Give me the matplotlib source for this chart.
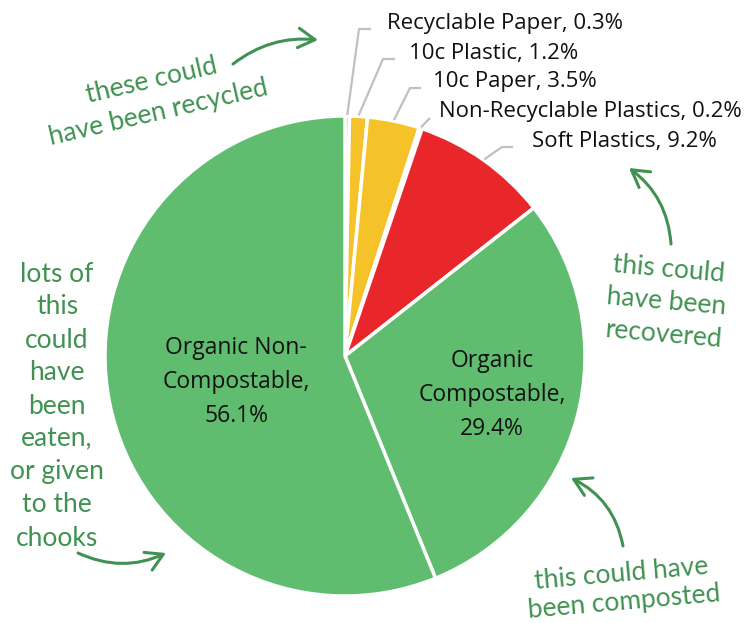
import numpy as np
import matplotlib
matplotlib.use("Agg")
import matplotlib.pyplot as plt

W, H = 752, 623

categories = ['Recyclable Paper', '10c Plastic', '10c Paper', 'Non-Recyclable Plastics',
              'Soft Plastics', 'Organic Compostable', 'Organic Non-Compostable']
shares = [0.3, 1.2, 3.5, 0.2, 9.2, 29.4, 56.1]
slice_colors = ['#F6C22A', '#F6C22A', '#F6C22A', '#E9272B', '#E9272B', '#60BD70', '#60BD70']

inner_labels = ['Organic\nCompostable,\n29.4%', 'Organic Non-\nCompostable,\n56.1%']

notes = ['these could\nhave been recycled',
         'lots of\nthis\ncould\nhave\nbeen\neaten,\nor given\nto the\nchooks',
         'this could\nhave been\nrecovered',
         'this could have\nbeen composted']

black_font = 'Open Sans'
note_font = 'Lato'
note_color = '#409252'
leader_color = '#C0C0C0'


def P(x, y):
    # pixel coords from the top-left corner -> data coords
    return (x, H - y)


fig = plt.figure(figsize=(W / 100, H / 100), dpi=100)
ax = fig.add_axes([0, 0, 1, 1])

cx, cy, R = 345, 356, 240
wedges, _ = ax.pie(shares, colors=slice_colors, startangle=90, counterclock=False,
                   center=P(cx, cy), radius=R,
                   wedgeprops=dict(edgecolor='white', linewidth=2.5))
ax.set_xlim(0, W)
ax.set_ylim(0, H)
ax.set_aspect('auto')
ax.axis('off')

# outer labels with elbow leader lines
elbows = [(359, 29), (383, 59), (410, 88), (430, 118), (502, 147)]
ends = [(371, 29), (395, 59), (421, 88), (430, 118), (513, 147)]
text_x = [387, 409, 433, 439, 532]
for i in range(5):
    w = wedges[i]
    mid = np.deg2rad((w.theta1 + w.theta2) / 2)
    sx = w.center[0] + (R + 1) * np.cos(mid)
    sy = w.center[1] + (R + 1) * np.sin(mid)
    ex, ey = P(*elbows[i])
    fx, fy = P(*ends[i])
    ax.plot([sx, ex, fx], [sy, ey, fy], color=leader_color, lw=1.6, solid_capstyle='butt')
    ax.text(text_x[i], fy + 6, f'{categories[i]}, {shares[i]}%', ha='left', va='center',
            fontsize=16, family=black_font, color='#111111')

# inner labels
inner_pos = [(492, 395), (236, 382)]
for lab, pos in zip(inner_labels, inner_pos):
    ax.text(*P(*pos), lab, ha='center', va='center', fontsize=16.5, family=black_font,
            linespacing=1.55, color='#111111')

# hand-written notes
note_pos = [(155, 97), (57, 406), (666, 302), (623, 588)]
note_rot = [13, 0, -5, 5]
note_ls = [1.4, 1.4, 1.4, 1.15]
for txt, pos, rot, ls in zip(notes, note_pos, note_rot, note_ls):
    ax.text(*P(*pos), txt, ha='center', va='center', rotation=rot, rotation_mode='anchor',
            fontsize=19, family=note_font, color=note_color, linespacing=ls)

arrows = [((233, 64), (318, 40), -0.2),
          ((78, 553), (166, 553), 0.23),
          ((671, 244), (629, 168), 0.23),
          ((623, 546), (571, 478), 0.25)]
for start, end, rad in arrows:
    ax.annotate('', xy=P(*end), xytext=P(*start),
                arrowprops=dict(arrowstyle='->,head_length=0.6,head_width=0.35',
                                connectionstyle=f'arc3,rad={rad}', color=note_color,
                                lw=2.2, mutation_scale=20, shrinkA=0, shrinkB=0))

fig.savefig('out.png', dpi=100, facecolor='white')
